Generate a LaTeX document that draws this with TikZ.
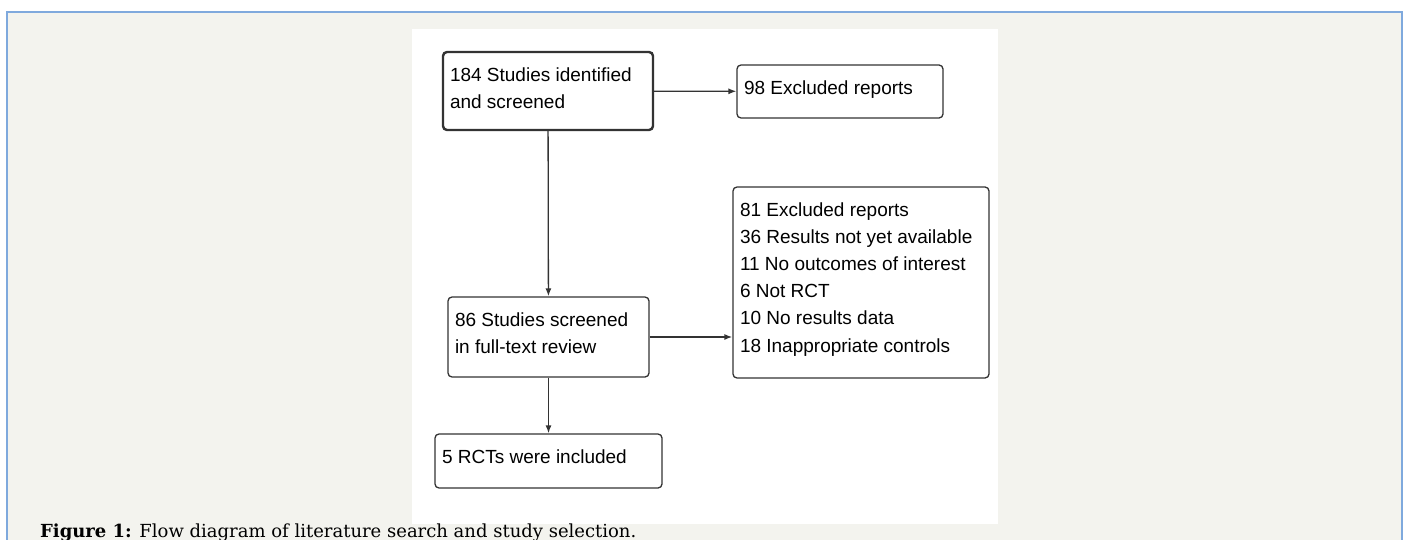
\documentclass[tikz,border=0pt]{standalone}
\usepackage{fontspec}
\usepackage{xcolor}
\usepackage{tikz}
\usetikzlibrary{arrows.meta}

\setmainfont{Liberation Sans}
\newfontfamily\captionfont{DejaVu Serif}

\definecolor{pagebg}{HTML}{F3F3EE}
\definecolor{frameblue}{HTML}{7FA9DD}
\definecolor{boxline}{HTML}{333333}

% top-aligned text block of fixed size inside a box
\newcommand{\boxtext}[3]{\parbox[c][#2][t]{#1}{\raggedright\strut #3}}

\tikzset{
    flowbox/.style={draw=boxline, line width=1.3pt, rounded corners=4pt, fill=white,
        inner xsep=7pt, inner ysep=10pt, font=\fontsize{19pt}{27.2pt}\selectfont},
    startbox/.style={flowbox, line width=2.4pt},
    flowarrow/.style={draw=boxline, line width=1.3pt, -{Latex[length=8pt,width=6pt]}}
}

\begin{document}
\begin{tikzpicture}[x=1pt, y=-1pt]
    \useasboundingbox (0,0) rectangle (1405,540);

    % Draw page frame and figure panel
    \fill[pagebg] (7,12) rectangle (1402,540);
    \draw[frameblue, line width=1.5pt] (7,540) -- (7,12) -- (1402,12) -- (1402,540);
    \fill[white] (412,29) rectangle (998,524);

    % Draw boxes
    \node[startbox] (ident) at (548,91) {\boxtext{196pt}{58pt}{184 Studies identified\\and screened}};
    \node[flowbox] (excl1) at (840,91.5) {\boxtext{192pt}{33pt}{98 Excluded reports}};
    \node[flowbox] (excl2) at (861,282.5) {\boxtext{242pt}{171pt}{81 Excluded reports\\36 Results not yet available\\11 No outcomes of interest\\6 Not RCT\\10 No results data\\18 Inappropriate controls}};
    \node[flowbox] (full) at (548.5,337) {\boxtext{187pt}{60pt}{86 Studies screened\\in full-text review}};
    \node[flowbox] (incl) at (548.5,461) {\boxtext{213pt}{34pt}{5 RCTs were included}};

    % Draw arrows
    \draw[flowarrow] (ident) -- (excl1);
    \draw[flowarrow] (ident) -- (full);
    \draw[flowarrow] (full.east) -- (full.east -| excl2.west);
    \draw[flowarrow] (full) -- (incl);

    % Label figure caption
    \node[anchor=base west, inner sep=0pt, font=\captionfont\fontsize{18pt}{20pt}\selectfont] (caption) at (40,537)
        {\textbf{Figure 1:} Flow diagram of literature search and study selection.};
\end{tikzpicture}
\end{document}
